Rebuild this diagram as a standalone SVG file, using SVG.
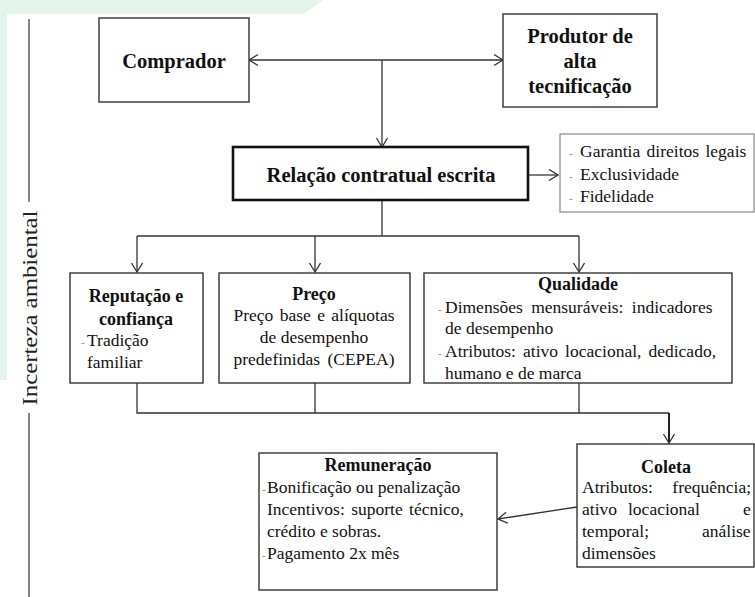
<svg xmlns="http://www.w3.org/2000/svg" width="755" height="597" viewBox="0 0 755 597" style="font-family:'Liberation Serif',serif">
<style>
.bx{fill:#fff;stroke:#333;stroke-width:1.4}
.ln{fill:none;stroke:#333;stroke-width:1.3}
.h{font-weight:bold;fill:#111;text-anchor:middle}
.t{font-size:17.5px;fill:#111}
.d{font-size:11px;fill:#888}
.v{font-size:22px;fill:#222;text-anchor:middle}
</style>
<defs>
<marker id="ar" markerUnits="userSpaceOnUse" markerWidth="14" markerHeight="14" refX="10" refY="6" orient="auto-start-reverse">
<path d="M1,0.5 L10,6 L1,11.5" fill="none" stroke="#333" stroke-width="1.3"/>
</marker>
</defs>
<rect width="755" height="597" fill="#fff"/>
<polygon points="0,0 323,0 304,14 7,14 7,380 0,380" fill="#e3f4ea"/>

<g id="axis">
<line x1="29" y1="19" x2="29" y2="202" stroke="#444" stroke-width="1.3"/>
<line x1="29" y1="413" x2="29" y2="597" stroke="#444" stroke-width="1.3"/>
<text class="v" transform="translate(37,308) rotate(-90)" textLength="195" lengthAdjust="spacingAndGlyphs">Incerteza ambiental</text>
</g>

<g id="connectors">
<line class="ln" x1="249" y1="60" x2="503" y2="60" marker-start="url(#ar)" marker-end="url(#ar)"/>
<line class="ln" x1="382" y1="60" x2="382" y2="147" marker-end="url(#ar)"/>
<line class="ln" x1="528" y1="175" x2="558" y2="175" marker-end="url(#ar)"/>
<path class="ln" d="M382,200 V236"/>
<line class="ln" x1="137" y1="236" x2="579" y2="236"/>
<line class="ln" x1="137" y1="236" x2="137" y2="272" marker-end="url(#ar)"/>
<line class="ln" x1="315" y1="236" x2="315" y2="272" marker-end="url(#ar)"/>
<line class="ln" x1="579" y1="236" x2="579" y2="272" marker-end="url(#ar)"/>
<path class="ln" d="M137,383 V413 H669 M315,383 V413 M579,383 V413"/>
<line x1="669" y1="413" x2="669" y2="443" stroke="#222" stroke-width="2" marker-end="url(#ar)"/>
<line class="ln" x1="577" y1="507" x2="498" y2="519" marker-end="url(#ar)"/>
</g>

<g id="comprador">
<rect class="bx" x="99" y="18" width="150" height="84"/>
<text class="h" x="174" y="68" font-size="20.5">Comprador</text>
</g>

<g id="produtor">
<rect class="bx" x="503" y="14" width="154" height="93"/>
<text class="h" x="580" y="43" font-size="20.5">Produtor de</text>
<text class="h" x="580" y="68" font-size="20.5">alta</text>
<text class="h" x="580" y="93" font-size="20.5">tecnificação</text>
</g>

<g id="relacao">
<rect x="233" y="147" width="295" height="53" fill="#fff" stroke="#111" stroke-width="2.6"/>
<text class="h" x="381" y="182" font-size="20.5">Relação contratual escrita</text>
</g>

<g id="garantias">
<rect x="560" y="134" width="194" height="78" fill="#fff" stroke="#888" stroke-width="1.2"/>
<text class="d" x="569" y="157">-</text>
<text class="t" x="580" y="157" word-spacing="2">Garantia direitos legais</text>
<text class="d" x="569" y="180">-</text>
<text class="t" x="580" y="180">Exclusividade</text>
<text class="d" x="569" y="202">-</text>
<text class="t" x="580" y="202">Fidelidade</text>
</g>

<g id="reputacao">
<rect class="bx" x="70" y="273" width="133" height="110"/>
<text class="h" x="136" y="302" font-size="18">Reputação e</text>
<text class="h" x="136" y="325" font-size="18">confiança</text>
<text class="d" x="81" y="346">-</text>
<text class="t" x="87" y="346">Tradição</text>
<text class="t" x="87" y="368">familiar</text>
</g>

<g id="preco">
<rect class="bx" x="219" y="273" width="191" height="110"/>
<text class="h" x="314" y="300" font-size="18">Preço</text>
<text class="t" x="314" y="321" text-anchor="middle" word-spacing="2">Preço base e alíquotas</text>
<text class="t" x="314" y="343" text-anchor="middle">de desempenho</text>
<text class="t" x="314" y="365" text-anchor="middle" word-spacing="3">predefinidas (CEPEA)</text>
</g>

<g id="qualidade">
<rect class="bx" x="424" y="273" width="308" height="110"/>
<text class="h" x="578" y="290" font-size="18">Qualidade</text>
<text class="d" x="438" y="313">-</text>
<text class="t" x="445" y="313" word-spacing="4">Dimensões mensuráveis: indicadores</text>
<text class="t" x="445" y="334">de desempenho</text>
<text class="d" x="438" y="357">-</text>
<text class="t" x="445" y="357" word-spacing="2.7">Atributos: ativo locacional, dedicado,</text>
<text class="t" x="445" y="379">humano e de marca</text>
</g>

<g id="coleta">
<rect class="bx" x="577" y="444" width="177" height="123"/>
<text class="h" x="666" y="473" font-size="18">Coleta</text>
<text class="t" x="582" y="493" word-spacing="15">Atributos: frequência;</text>
<text class="t" y="515"><tspan x="582">ativo</tspan><tspan x="628">locacional</tspan><tspan x="743">e</tspan></text>
<text class="t" y="537"><tspan x="582">temporal;</tspan><tspan x="702">análise</tspan></text>
<text class="t" x="582" y="559">dimensões</text>
</g>

<g id="remuneracao">
<rect class="bx" x="259" y="453" width="238" height="137"/>
<text class="h" x="378" y="471" font-size="18">Remuneração</text>
<text class="d" x="262" y="493">-</text>
<text class="t" x="267" y="493">Bonificação ou penalização</text>
<text class="t" x="267" y="515" word-spacing="2">Incentivos: suporte técnico,</text>
<text class="t" x="267" y="537">crédito e sobras.</text>
<text class="d" x="262" y="559">-</text>
<text class="t" x="267" y="559">Pagamento 2x mês</text>
</g>
</svg>
